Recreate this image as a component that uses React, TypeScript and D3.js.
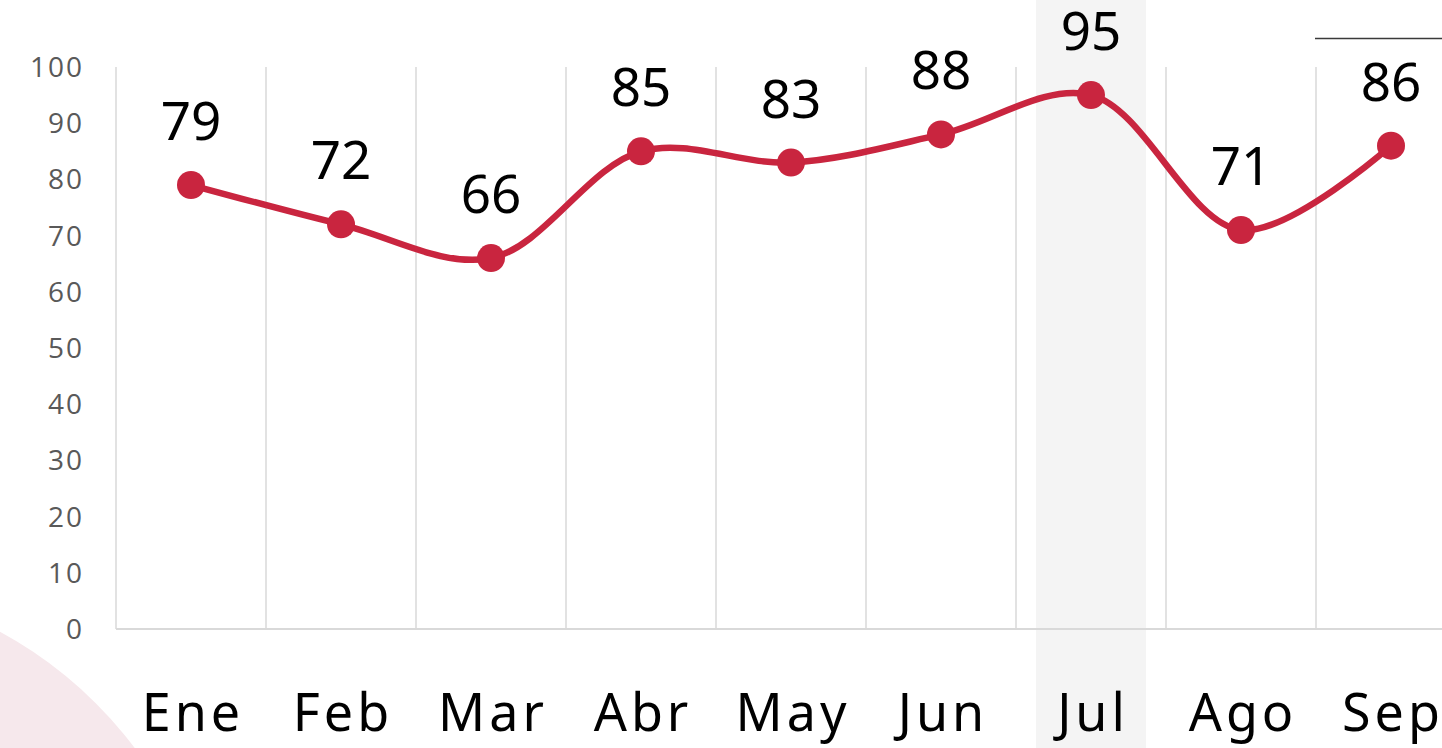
import { useEffect, useRef } from 'react'
import * as d3 from 'd3'

const months = ['Ene', 'Feb', 'Mar', 'Abr', 'May', 'Jun', 'Jul', 'Ago', 'Sep']
const values = [79, 72, 66, 85, 83, 88, 95, 71, 86]
const yTicks = [0, 10, 20, 30, 40, 50, 60, 70, 80, 90, 100]
const highlighted = 'Jul'

const WIDTH = 1442
const HEIGHT = 748
const RED = '#c9253f'

export default function App() {
  const svgRef = useRef<SVGSVGElement>(null)

  useEffect(() => {
    document.body.style.margin = '0'
    if (!svgRef.current) return
    const svg = d3.select(svgRef.current)
    svg.selectAll('*').remove()

    const x = d3.scaleBand().domain(months).range([116, 116 + 150 * months.length]).padding(0)
    const y = d3.scaleLinear().domain([0, 100]).range([629, 67])
    const cx = (m: string) => (x(m) || 0) + x.bandwidth() / 2

    // decoracion de fondo
    svg.append('circle').attr('cx', -200).attr('cy', 1000).attr('r', 419).attr('fill', '#f6e8ec')

    // columna resaltada
    svg
      .append('rect')
      .attr('x', cx(highlighted) - 55)
      .attr('y', 0)
      .attr('width', 110)
      .attr('height', HEIGHT)
      .attr('fill', '#f4f4f4')

    // linea superior derecha
    svg
      .append('line')
      .attr('x1', 1315)
      .attr('x2', WIDTH)
      .attr('y1', 38.5)
      .attr('y2', 38.5)
      .attr('stroke', '#3a3a3a')
      .attr('stroke-width', 1.5)

    // rejilla vertical entre categorias
    const g = svg.append('g')
    months.forEach(m => {
      g.append('line')
        .attr('x1', (x(m) || 0))
        .attr('x2', (x(m) || 0))
        .attr('y1', y(100))
        .attr('y2', y(0))
        .attr('stroke', '#d9d9d9')
        .attr('stroke-width', 1.5)
    })
    g.append('line')
      .attr('x1', x.range()[0])
      .attr('x2', WIDTH)
      .attr('y1', y(0))
      .attr('y2', y(0))
      .attr('stroke', '#d9d9d9')
      .attr('stroke-width', 2)

    // eje Y
    svg
      .append('g')
      .selectAll('text')
      .data(yTicks)
      .enter()
      .append('text')
      .attr('x', 84)
      .attr('y', d => y(d) + 10)
      .attr('text-anchor', 'end')
      .style('font-family', '"Open Sans", sans-serif')
      .style('font-size', '28px')
      .style('letter-spacing', '2px')
      .style('fill', '#595959')
      .text(d => d)

    // eje X
    svg
      .append('g')
      .selectAll('text')
      .data(months)
      .enter()
      .append('text')
      .attr('x', d => cx(d) + 2)
      .attr('y', 731)
      .attr('text-anchor', 'middle')
      .style('font-family', '"Noto Sans", sans-serif')
      .style('font-size', '52px')
      .style('letter-spacing', '4px')
      .style('fill', '#000')
      .text(d => d)

    // linea suavizada
    const line = d3
      .line<number>()
      .x((_, i) => cx(months[i]))
      .y(d => y(d))
      .curve(d3.curveCatmullRom.alpha(0.5))

    svg
      .append('path')
      .datum(values)
      .attr('d', line)
      .attr('fill', 'none')
      .attr('stroke', RED)
      .attr('stroke-width', 6.5)
      .attr('stroke-linecap', 'round')

    svg
      .append('g')
      .selectAll('circle')
      .data(values)
      .enter()
      .append('circle')
      .attr('cx', (_, i) => cx(months[i]))
      .attr('cy', d => y(d))
      .attr('r', 14)
      .attr('fill', RED)

    // etiquetas de datos
    svg
      .append('g')
      .selectAll('text')
      .data(values)
      .enter()
      .append('text')
      .attr('x', (_, i) => cx(months[i]))
      .attr('y', d => y(d) - 45)
      .attr('text-anchor', 'middle')
      .style('font-family', '"Noto Sans", sans-serif')
      .style('font-size', '53px')
      .style('fill', '#000')
      .text(d => d)
  }, [])

  return (
    <div style={{ position: 'absolute', left: 0, top: 0 }}>
      <svg ref={svgRef} width={WIDTH} height={HEIGHT} style={{ display: 'block', background: '#fff' }}></svg>
    </div>
  )
}
